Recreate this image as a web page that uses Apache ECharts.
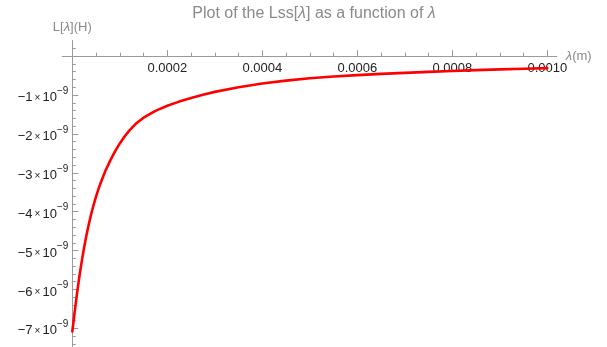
<!DOCTYPE html>
<html>
<head>
<meta charset="utf-8">
<script src="https://cdn.jsdelivr.net/npm/echarts@6/dist/echarts.min.js"></script>
<style>
  html, body { margin: 0; padding: 0; background: #fff; }
  #chart { width: 607px; height: 347px; }
</style>
</head>
<body>
<div id="chart"></div>
<script>
// Wavelength λ (m)
const lambdaValues = [
  0.000000, 0.000002, 0.000004, 0.000006, 0.000008, 0.000010, 0.000012,
  0.000015, 0.000018, 0.000020, 0.000025, 0.000030, 0.000035, 0.000040,
  0.000045, 0.000050, 0.000055, 0.000060, 0.000070, 0.000080, 0.000090,
  0.000100, 0.000110, 0.000120, 0.000135, 0.000150, 0.000175, 0.000200,
  0.000225, 0.000250, 0.000275, 0.000300, 0.000350, 0.000400, 0.000450,
  0.000500, 0.000550, 0.000600, 0.000650, 0.000700, 0.000750, 0.000800,
  0.000850, 0.000900, 0.000950, 0.001000
];
// Inductance L[λ] (H)
const inductanceValues = [
  -7.08e-9, -6.88e-9, -6.68e-9, -6.48e-9, -6.29e-9, -6.10e-9, -5.92e-9,
  -5.66e-9, -5.42e-9, -5.27e-9, -4.91e-9, -4.59e-9, -4.31e-9, -4.05e-9,
  -3.82e-9, -3.61e-9, -3.42e-9, -3.25e-9, -2.94e-9, -2.68e-9, -2.45e-9,
  -2.245e-9, -2.067e-9, -1.915e-9, -1.725e-9, -1.583e-9, -1.408e-9, -1.278e-9,
  -1.17e-9, -1.075e-9, -0.993e-9, -0.92e-9, -0.80e-9, -0.705e-9, -0.63e-9,
  -0.57e-9, -0.525e-9, -0.49e-9, -0.458e-9, -0.43e-9, -0.405e-9, -0.382e-9,
  -0.361e-9, -0.342e-9, -0.325e-9, -0.31e-9
];
// Labelled ticks
const xTickLabels = ['0.0002', '0.0004', '0.0006', '0.0008', '0.0010'];
const yTickLabels = ['−1', '−2', '−3', '−4', '−5', '−6', '−7'];

const axisGray = '#9a9a9a';
const nameGray = '#8a8a8a';
const labelFont = '"Liberation Sans", Arial, sans-serif';

// pixel scale shared by every grid
const X0 = 72.3, PX_PER_X = 475000;          // px per metre
const Y0 = 56.1, PX_PER_Y = 38.9e9;          // px per henry

const xMinA = -0.000021, xMaxA = 0.00102;
const yMinA = -8e-9, yMaxA = 0.4e-9;

function gridBox(left, top, width, height) {
  return { left, top, width, height, containLabel: false, outerBoundsMode: 'none', show: false };
}
function gridFor(xmin, xmax, ymin, ymax) {
  return gridBox(X0 + xmin * PX_PER_X, Y0 - ymax * PX_PER_Y,
                 (xmax - xmin) * PX_PER_X, (ymax - ymin) * PX_PER_Y);
}
// a strip whose bottom edge sits on the λ axis, for its ticks and labels
const xStrip = () => gridBox(X0, Y0 - 30, 0.001 * PX_PER_X, 30);

const hiddenAxis = (gridIndex) => ({
  type: 'value', gridIndex, min: 0, max: 1, show: false,
  axisLine: { show: false, onZero: false }
});

const data = lambdaValues.map((x, i) => [x, inductanceValues[i]]);

const chart = echarts.init(document.getElementById('chart'), null, { renderer: 'canvas' });

chart.setOption({
  animation: false,
  backgroundColor: '#ffffff',
  title: {
    text: 'Plot of the Lss[{i|λ}] as a function of {i|λ}',
    left: 309,
    textAlign: 'center',
    top: 1,
    textStyle: {
      color: nameGray,
      fontFamily: labelFont,
      fontSize: 16,
      fontWeight: 'normal',
      rich: {
        i: { fontStyle: 'italic', color: nameGray, fontSize: 16, fontFamily: labelFont }
      }
    }
  },
  grid: [
    gridFor(xMinA, xMaxA, yMinA, yMaxA),   // 0: curve + axis lines
    gridFor(0, 0.001, -8e-9, 0),           // 1: L major ticks + labels
    gridFor(0, 0.001, -8e-9, 0.2e-9),      // 2: L minor ticks
    xStrip(),                              // 3: λ major ticks + labels
    xStrip()                               // 4: λ minor ticks
  ],
  xAxis: [
    {
      type: 'value', gridIndex: 0, min: xMinA, max: xMaxA,
      axisLine: { show: true, onZero: true, lineStyle: { color: axisGray, width: 1 } },
      axisTick: { show: false }, axisLabel: { show: false }, splitLine: { show: false },
      name: '{i|λ}(m)', nameLocation: 'end', nameGap: 9,
      nameTextStyle: {
        color: nameGray, fontFamily: labelFont, fontSize: 13,
        rich: { i: { fontStyle: 'italic', color: nameGray, fontSize: 13, fontFamily: labelFont } }
      }
    },
    hiddenAxis(1),
    hiddenAxis(2),
    {
      type: 'value', gridIndex: 3, min: 0, max: 0.001, interval: 0.0002,
      position: 'bottom',
      axisLine: { show: false, onZero: false },
      axisTick: { show: true, inside: true, length: 6, lineStyle: { color: axisGray } },
      axisLabel: {
        show: true, margin: 6, color: '#222', fontFamily: labelFont, fontSize: 13,
        formatter: v => {
          const k = Math.round(v / 0.0002);
          return k >= 1 && k <= xTickLabels.length ? xTickLabels[k - 1] : '';
        }
      },
      splitLine: { show: false }
    },
    {
      type: 'value', gridIndex: 4, min: 0, max: 0.001, interval: 0.00005,
      position: 'bottom',
      axisLine: { show: false, onZero: false },
      axisTick: { show: true, inside: true, length: 3.5, lineStyle: { color: axisGray } },
      axisLabel: { show: false }, splitLine: { show: false }
    }
  ],
  yAxis: [
    {
      type: 'value', gridIndex: 0, min: yMinA, max: yMaxA,
      axisLine: { show: true, onZero: true, lineStyle: { color: axisGray, width: 1 } },
      axisTick: { show: false }, axisLabel: { show: false }, splitLine: { show: false },
      name: 'L[{i|λ}](H)', nameLocation: 'end', nameGap: 7,
      nameTextStyle: {
        color: nameGray, fontFamily: labelFont, fontSize: 13, align: 'center',
        rich: { i: { fontStyle: 'italic', color: nameGray, fontSize: 13, fontFamily: labelFont } }
      }
    },
    {
      type: 'value', gridIndex: 1, min: -8e-9, max: 0, interval: 1e-9,
      position: 'left',
      axisLine: { show: false, onZero: false },
      axisTick: { show: true, inside: true, length: 6, lineStyle: { color: axisGray } },
      axisLabel: {
        show: true, margin: 4, color: '#222', fontFamily: labelFont, fontSize: 13,
        formatter: v => {
          const k = Math.round(-v / 1e-9);
          if (k < 1 || k > yTickLabels.length) return '';
          return '{m|' + yTickLabels[k - 1] + '}{x|×}{m|10}{s|−9}';
        },
        rich: {
          m: { fontSize: 13, fontFamily: labelFont, color: '#222', lineHeight: 18, verticalAlign: 'bottom' },
          x: { fontSize: 10, fontFamily: labelFont, color: '#222', lineHeight: 18, verticalAlign: 'bottom', padding: [0, 2, 1, 2] },
          s: { fontSize: 10, fontFamily: labelFont, color: '#222', lineHeight: 18, verticalAlign: 'top' }
        }
      },
      splitLine: { show: false }
    },
    {
      type: 'value', gridIndex: 2, min: -8e-9, max: 0.2e-9, interval: 0.2e-9,
      position: 'left',
      axisLine: { show: false, onZero: false },
      axisTick: { show: true, inside: true, length: 3.5, lineStyle: { color: axisGray } },
      axisLabel: { show: false }, splitLine: { show: false }
    },
    hiddenAxis(3),
    hiddenAxis(4)
  ],
  series: [
    {
      type: 'line',
      xAxisIndex: 0, yAxisIndex: 0,
      data: data,
      smooth: false,
      showSymbol: false,
      lineStyle: { color: '#ff0000', width: 2.6, join: 'round', cap: 'round' },
      z: 5
    }
  ]
});
</script>
</body>
</html>
